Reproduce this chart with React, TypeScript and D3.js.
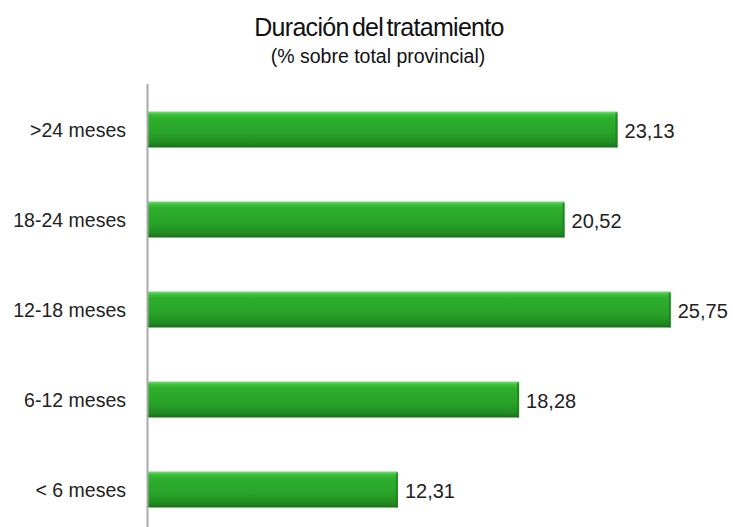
import React from 'react';
import * as d3 from 'd3';

const categories = ['>24 meses', '18-24 meses', '12-18 meses', '6-12 meses', '< 6 meses'];
const values = [23.13, 20.52, 25.75, 18.28, 12.31];

const width = 733;
const height = 527;

const fmt = (v: number) => v.toFixed(2).replace('.', ',');

export default function App() {
  const x = d3.scaleLinear().domain([0, 30]).range([148, 757]);
  const y = d3.scaleBand<string>().domain(categories).range([84.5, 534.5]).paddingInner(0.6).paddingOuter(0.3);

  return (
    <svg
      width={width}
      height={height}
      style={{ position: 'absolute', left: 0, top: 0, fontFamily: '"Liberation Sans", Arial, sans-serif' }}
    >
      <defs>
        <linearGradient id="barGrad" x1="0" y1="0" x2="0" y2="1">
          <stop offset="0%" stopColor="#6fe06f" />
          <stop offset="9%" stopColor="#3cbd3c" />
          <stop offset="20%" stopColor="#2daf2d" />
          <stop offset="60%" stopColor="#29a329" />
          <stop offset="88%" stopColor="#218c21" />
          <stop offset="100%" stopColor="#1a6b1a" />
        </linearGradient>
      </defs>
      <rect width={width} height={height} fill="#fff" />
      <text x={379} y={36} textAnchor="middle" fontSize={25} letterSpacing={-0.7} wordSpacing={-3} fill="#111">
        Duración del tratamiento
      </text>
      <text x={378} y={63} textAnchor="middle" fontSize={19.5} fill="#111">
        (% sobre total provincial)
      </text>
      {categories.map((c, i) => {
        const yy = y(c)!;
        const bh = y.bandwidth();
        const x1 = x(values[i]);
        return (
          <g key={c}>
            <rect x={x(0)} y={yy} width={x1 - x(0)} height={bh} fill="url(#barGrad)" />
            <rect x={x1 - 2} y={yy + 1} width={2} height={bh - 1} fill="#1c7a1c" opacity={0.7} />
            <text x={126} y={yy + bh / 2 + 7} fontSize={19.5} fill="#222" textAnchor="end">
              {c}
            </text>
            <text x={x1 + 7} y={yy + bh / 2 + 8.5} fontSize={20} fill="#222">
              {fmt(values[i])}
            </text>
          </g>
        );
      })}
      <line x1={147.5} x2={147.5} y1={84} y2={height} stroke="#aaa" strokeWidth={2} />
    </svg>
  );
}
